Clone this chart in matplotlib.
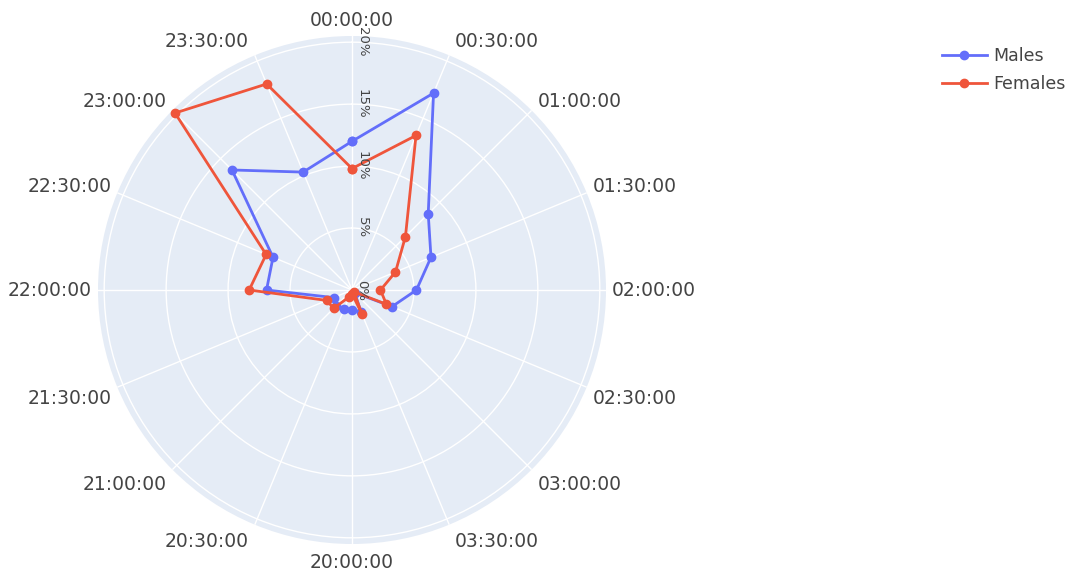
import matplotlib
matplotlib.use("Agg")
import matplotlib.pyplot as plt
import matplotlib.transforms as mtransforms
import numpy as np

plt.rcParams['font.family'] = ['DejaVu Sans']

# half-hour slots around the clock (category axis, clockwise from top)
slots = ["00:00:00", "00:30:00", "01:00:00", "01:30:00", "02:00:00", "02:30:00",
         "03:00:00", "03:30:00", "20:00:00", "20:30:00", "21:00:00", "21:30:00",
         "22:00:00", "22:30:00", "23:00:00", "23:30:00"]

# share of observations per slot, in %
males = [12.0, 17.2, 8.7, 6.9, 5.2, 3.5, 0.3, 1.9,
         1.6, 1.7, 1.8, 1.6, 6.9, 6.9, 13.7, 10.3]
females = [9.8, 13.5, 6.1, 3.8, 2.3, 3.0, 0.2, 2.1,
           0.3, 0.6, 2.1, 2.2, 8.3, 7.5, 20.2, 18.0]

r_ticks = [0, 5, 10, 15, 20]
r_max = 20.5

BLUE = "#636EFA"
RED = "#EF553B"
BG = "#E5ECF6"
TXT = "#444444"

fig = plt.figure(figsize=(10.69, 5.72), dpi=100)
ax = fig.add_axes([98 / 1069, 28 / 572, 508 / 1069, 508 / 572], projection="polar")
ax.set_facecolor(BG)
ax.set_theta_zero_location("N")
ax.set_theta_direction(-1)

theta = np.arange(len(slots)) * 2 * np.pi / len(slots)

def closed(vals):
    return np.append(theta, theta[0]), np.append(vals, vals[0])

for vals, col, name in [(males, BLUE, "Males"), (females, RED, "Females")]:
    t, r = closed(vals)
    ax.plot(t, r, color=col, lw=2, marker="o", ms=6, label=name, zorder=3,
            clip_on=False)

ax.set_ylim(0, r_max)
ax.set_xticks(theta)
ax.set_xticklabels([])
ax.set_yticks(r_ticks)
ax.set_yticklabels([])
ax.grid(True, color="white", lw=1)
ax.spines["polar"].set_visible(False)

# angular labels, anchored outward like plotly does
for th, lab in zip(theta, slots):
    s, c = np.sin(th), np.cos(th)
    ha = "left" if s > 0.1 else ("right" if s < -0.1 else "center")
    dx = 6 * np.sign(s) if abs(s) > 0.1 else 0
    if c > 0.1:
        va, dy = "baseline", 10 * c ** 3
    elif c < -0.1:
        va, dy = "top", -8.5 * abs(c) ** 1.5
    else:
        va, dy = "center", 0
    ax.annotate(lab, xy=(th, r_max), xytext=(dx, dy),
                textcoords="offset pixels", ha=ha, va=va,
                fontsize=13.5, color=TXT, annotation_clip=False)

# radial tick labels, rotated along the vertical axis
off = mtransforms.offset_copy(ax.transData, fig=fig, x=10, y=0, units="dots")
for rv in r_ticks:
    ax.text(0, rv, f"{rv}%", transform=off, rotation=-90, ha="center",
            va="center", fontsize=9.5, color=TXT, zorder=4)

fig.legend(loc="upper left", bbox_to_anchor=(926 / 1069, 1 - 31 / 572),
           frameon=False, fontsize=12.5, handlelength=2.6, handletextpad=0.4,
           labelspacing=0.6, labelcolor=TXT)

fig.savefig("out.png", dpi=100)
